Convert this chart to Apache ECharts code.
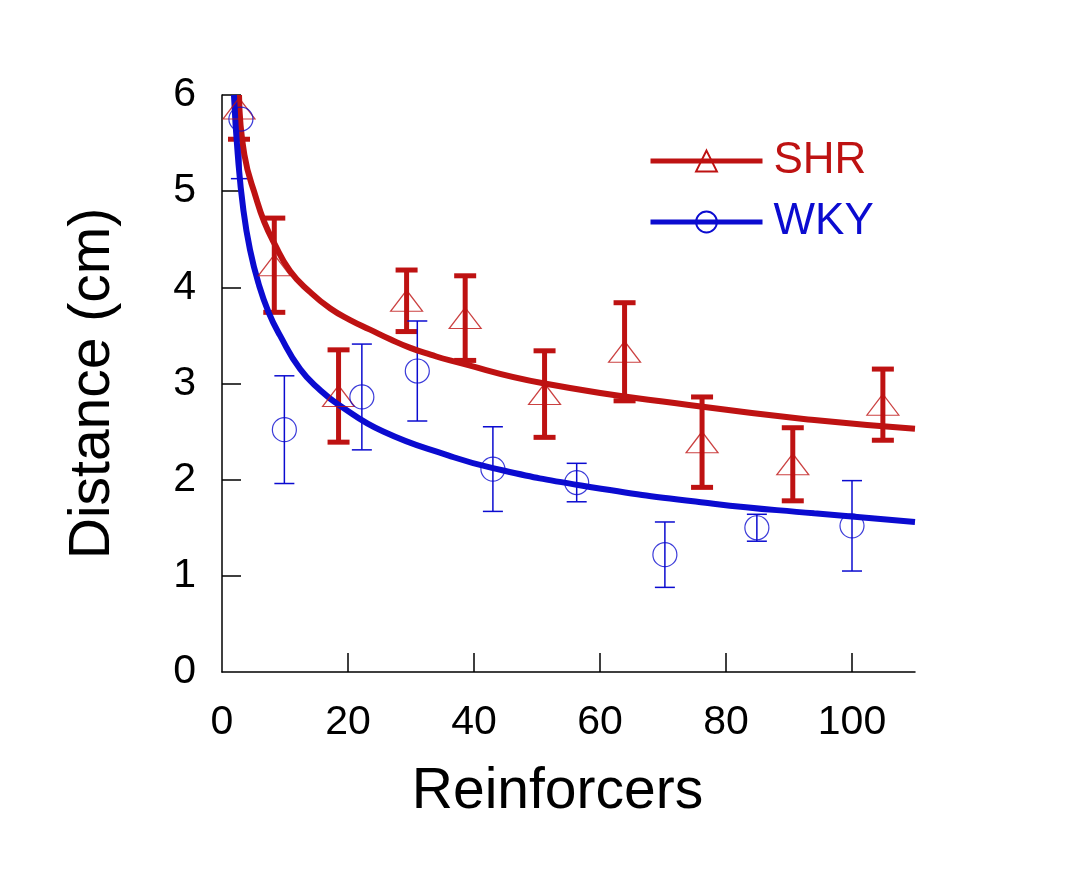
<!DOCTYPE html>
<html>
<head>
<meta charset="utf-8">
<script src="https://cdn.jsdelivr.net/npm/echarts@6/dist/echarts.min.js"></script>
<style>
  html, body { margin: 0; padding: 0; background: #fff; }
  #chart { width: 1066px; height: 889px; }
</style>
</head>
<body>
<div id="chart"></div>
<script>
// SHR points (triangles): x, mean, error
var shrX = [2.7, 8.3, 18.5, 29.3, 38.6, 51.2, 63.9, 76.2, 90.6, 104.9];
var shrY = [5.86, 4.23, 2.87, 3.86, 3.68, 2.89, 3.33, 2.39, 2.16, 2.78];
var shrErr = [0.32, 0.49, 0.48, 0.32, 0.44, 0.45, 0.51, 0.47, 0.38, 0.37];

// WKY points (circles)
var wkyX = [3.0, 9.9, 22.2, 31.0, 43.0, 56.3, 70.3, 84.9, 100.0];
var wkyY = [5.75, 2.52, 2.86, 3.13, 2.11, 1.97, 1.22, 1.50, 1.52];
var wkyErr = [0.62, 0.56, 0.55, 0.52, 0.44, 0.20, 0.34, 0.14, 0.47];

// fitted curves
var shrFitX = [2.7, 3.55, 5.5, 6.7, 8.2, 10.8, 14.0, 17.2, 20.35, 23.5, 26.7, 29.9, 33.1, 36.2, 51.2, 76, 94, 110];
var shrFitY = [6.0, 5.38, 4.91, 4.68, 4.47, 4.17, 3.95, 3.78, 3.66, 3.56, 3.46, 3.37, 3.30, 3.24, 3.00, 2.76, 2.62, 2.53];
var wkyFitX = [1.9, 2.5, 3.4, 4.45, 5.8, 7.4, 9.2, 12.4, 15.6, 18.5, 25.6, 36, 43, 57, 78, 94, 110];
var wkyFitY = [6.0, 5.38, 4.80, 4.39, 4.04, 3.74, 3.50, 3.15, 2.93, 2.78, 2.50, 2.25, 2.12, 1.94, 1.75, 1.65, 1.56];

var xTicks = [20, 40, 60, 80, 100];
var xLabels = [0, 20, 40, 60, 80, 100];
var yTicks = [1, 2, 3, 4, 5, 6];

var RED = '#BE1212';
var BLUE = '#0B0BD0';
var FONT = '"Liberation Sans", Arial, Helvetica, sans-serif';

function zip(xs, ys) {
  var out = [];
  for (var i = 0; i < xs.length; i++) out.push([xs[i], ys[i]]);
  return out;
}
function bars(xs, ys, es) {
  var out = [];
  for (var i = 0; i < xs.length; i++) out.push([xs[i], ys[i] - es[i], ys[i] + es[i]]);
  return out;
}
function errorBar(color, lw, cap) {
  return function (params, api) {
    var x = api.value(0);
    var lo = api.coord([x, api.value(1)]);
    var hi = api.coord([x, api.value(2)]);
    var st = { stroke: color, lineWidth: lw };
    return {
      type: 'group',
      children: [
        { type: 'line', shape: { x1: lo[0], y1: lo[1], x2: hi[0], y2: hi[1] }, style: st },
        { type: 'line', shape: { x1: lo[0] - cap / 2, y1: lo[1], x2: lo[0] + cap / 2, y2: lo[1] }, style: st },
        { type: 'line', shape: { x1: hi[0] - cap / 2, y1: hi[1], x2: hi[0] + cap / 2, y2: hi[1] }, style: st }
      ]
    };
  };
}

var chart = echarts.init(document.getElementById('chart'));
var option = {
  backgroundColor: '#fff',
  animation: false,
  grid: { left: 222, right: 151, top: 95, bottom: 217 },
  legend: {
    orient: 'vertical',
    left: 648,
    top: 139,
    padding: 0,
    itemWidth: 112,
    itemHeight: 26,
    itemGap: 17,
    selectedMode: false,
    lineStyle: { width: 5 },
    textStyle: { fontSize: 44, fontFamily: FONT, padding: [0, 0, 0, 6] },
    data: [
      { name: 'SHR', textStyle: { color: RED } },
      { name: 'WKY', textStyle: { color: BLUE } }
    ]
  },
  xAxis: {
    type: 'value',
    min: 0, max: 110, interval: 20,
    name: 'Reinforcers',
    nameLocation: 'middle',
    nameGap: 92,
    nameTextStyle: { fontSize: 57, fontFamily: FONT, color: '#000', padding: [0, 22, 0, 0] },
    splitLine: { show: false },
    axisLine: { lineStyle: { color: '#000', width: 1.5 } },
    axisTick: { inside: true, length: 19, customValues: xTicks, lineStyle: { color: '#000', width: 1.5 } },
    axisLabel: { customValues: xLabels, fontSize: 41, fontFamily: FONT, color: '#000', margin: 30 }
  },
  yAxis: {
    type: 'value',
    min: 0, max: 6, interval: 1,
    name: 'Distance (cm)',
    nameLocation: 'middle',
    nameGap: 100,
    nameTextStyle: { fontSize: 57, fontFamily: FONT, color: '#000' },
    splitLine: { show: false },
    axisLine: { lineStyle: { color: '#000', width: 1.5 } },
    axisTick: { inside: true, length: 19, customValues: yTicks, lineStyle: { color: '#000', width: 1.5 } },
    axisLabel: { fontSize: 41, fontFamily: FONT, color: '#000', margin: 26 }
  },
  series: [
    {
      name: 'SHR err', type: 'custom', clip: true,
      renderItem: errorBar(RED, 5, 22),
      encode: { x: 0, y: [1, 2] },
      data: bars(shrX, shrY, shrErr), z: 2
    },
    {
      name: 'WKY err', type: 'custom', clip: true,
      renderItem: errorBar(BLUE, 1.5, 20),
      encode: { x: 0, y: [1, 2] },
      data: bars(wkyX, wkyY, wkyErr), z: 2
    },
    {
      name: 'SHR', type: 'line', smooth: 0.5,
      symbol: 'triangle', showSymbol: false, clip: true,
      lineStyle: { color: RED, width: 6 },
      itemStyle: { color: 'rgba(255,255,255,0)', borderColor: RED, borderWidth: 1.2 },
      data: zip(shrFitX, shrFitY), z: 3
    },
    {
      name: 'WKY', type: 'line', smooth: 0.5,
      symbol: 'circle', showSymbol: false, clip: true,
      lineStyle: { color: BLUE, width: 6 },
      itemStyle: { color: 'rgba(255,255,255,0)', borderColor: BLUE, borderWidth: 1.2 },
      data: zip(wkyFitX, wkyFitY), z: 3
    },
    {
      name: 'SHR pts', type: 'scatter',
      symbol: 'triangle', symbolSize: [32, 21],
      itemStyle: { color: 'rgba(255,255,255,0)', borderColor: RED, borderWidth: 1.2 },
      data: zip(shrX, shrY), z: 4
    },
    {
      name: 'WKY pts', type: 'scatter',
      symbol: 'circle', symbolSize: 24,
      itemStyle: { color: 'rgba(255,255,255,0)', borderColor: BLUE, borderWidth: 1.2 },
      data: zip(wkyX, wkyY), z: 4
    }
  ]
};
chart.setOption(option);
</script>
</body>
</html>
